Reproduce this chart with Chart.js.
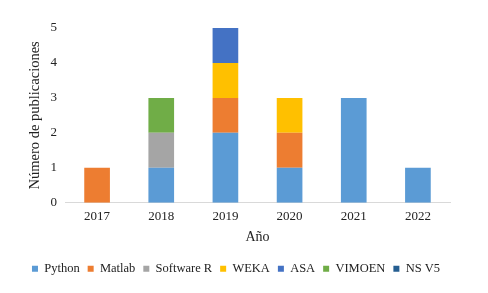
<!DOCTYPE html>
<html>
<head>
<meta charset="utf-8">
<script src="https://cdn.jsdelivr.net/npm/chart.js@4/dist/chart.umd.min.js"></script>
<style>
  html, body { margin: 0; padding: 0; background: #fff; }
  #wrap { width: 488px; height: 293px; }
</style>
</head>
<body>
<div id="wrap"><canvas id="grafico"></canvas></div>
<script>
// Años (categorías del eje X)
const anos = ['2017', '2018', '2019', '2020', '2021', '2022'];

// Número de publicaciones por herramienta y año
const python = [0, 1, 2, 1, 3, 1];
const matlab = [1, 0, 1, 1, 0, 0];
const softwareR = [0, 1, 0, 0, 0, 0];
const weka = [0, 0, 1, 1, 0, 0];
const asa = [0, 0, 1, 0, 0, 0];
const vimoen = [0, 1, 0, 0, 0, 0];
const nsv5 = [0, 0, 0, 0, 0, 0];

const series = [
    { label: 'Python', data: python, color: '#5B9BD5' },
    { label: 'Matlab', data: matlab, color: '#ED7D31' },
    { label: 'Software R', data: softwareR, color: '#A5A5A5' },
    { label: 'WEKA', data: weka, color: '#FFC000' },
    { label: 'ASA', data: asa, color: '#4472C4' },
    { label: 'VIMOEN', data: vimoen, color: '#70AD47' },
    { label: 'NS V5', data: nsv5, color: '#255E91' }
];

const fuente = 'Liberation Serif';

const datasets = series.map(s => ({
    label: s.label,
    data: s.data,
    backgroundColor: s.color,
    borderWidth: 0,
    barPercentage: 0.8,
    categoryPercentage: 0.5
}));

const ctx = document.getElementById('grafico').getContext('2d');
new Chart(ctx, {
    type: 'bar',
    data: { labels: anos, datasets: datasets },
    options: {
        responsive: true,
        maintainAspectRatio: false,
        animation: false,
        layout: { padding: { left: 22, right: 38, top: 28, bottom: 8 } },
        plugins: {
            legend: {
                position: 'bottom',
                labels: {
                    boxWidth: 6,
                    boxHeight: 6,
                    padding: 8,
                    color: '#222',
                    font: { family: fuente, size: 12.5 }
                }
            },
            tooltip: { enabled: false }
        },
        scales: {
            x: {
                stacked: true,
                grid: { display: false, drawTicks: false },
                border: { color: '#d9d9d9' },
                ticks: { color: '#222', padding: 10, font: { family: fuente, size: 13, lineHeight: 0.6 } },
                title: { display: true, text: 'Año', color: '#222', font: { family: fuente, size: 14, lineHeight: 1 }, padding: { top: 0, bottom: 10 } }
            },
            y: {
                stacked: true,
                min: 0,
                max: 5,
                grid: { display: false, drawTicks: false },
                border: { display: false },
                ticks: { stepSize: 1, color: '#222', padding: 8, font: { family: fuente, size: 13 } },
                title: { display: true, text: 'Número de publicaciones', color: '#222', font: { family: fuente, size: 14.5, lineHeight: 1 }, padding: { top: 6, bottom: 0 } }
            }
        }
    }
});
</script>
</body>
</html>
